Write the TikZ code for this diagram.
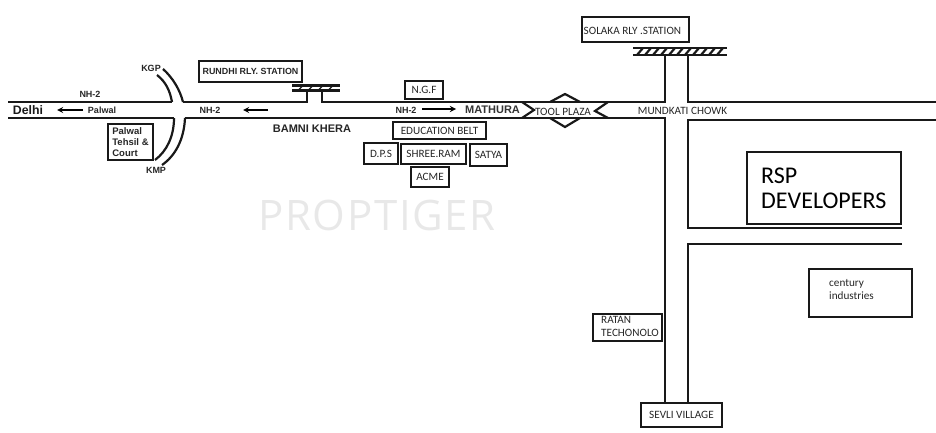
\documentclass[tikz,border=0pt]{standalone}
\usepackage{fontspec}
\setmainfont{Carlito}
\newfontfamily\armfont{Liberation Sans}
\newfontfamily\markfont[LetterSpace=4]{Open Sans}
\usepackage{tikz}
\usetikzlibrary{math}
\colorlet{roadfg}{black!90}
\tikzset{%
  road/.style={line width=2.2pt, color=roadfg},
  placebox/.style={draw=roadfg, line width=2.2pt, inner sep=0pt, align=left, text=black!85},
  armlabel/.style={inner sep=0pt, font=\armfont\bfseries\fontsize{9}{10}\selectfont, text=black!85},
  runarrow/.style={line width=1.7pt, color=black, -stealth}
}
\newcommand*{\SmallText}{\fontsize{11.2}{13}\selectfont}

\begin{document}
\begin{tikzpicture}[x=1pt,y=-1pt]
    \useasboundingbox (0,0) rectangle (936,433);
    \tikzmath{
      \topy=102; % main road
      \boty=118;
      \lefty=665; % cross road
      \righty=688;
    }
    % Main road:
    \draw[road] (8,\topy) -- (172,\topy);
    \draw[road] (183,\topy) -- (307,\topy) -- (307,89);
    \draw[road] (322,89) -- (322,\topy) -- (\lefty,\topy) -- (\lefty,55);
    \draw[road] (\righty,55) -- (\righty,\topy) -- (936,\topy);
    \draw[road] (8,\boty) -- (174,\boty);
    \draw[road] (185,\boty) -- (\lefty,\boty) -- (\lefty,403);
    \draw[road] (936,120) -- (\righty,120) -- (\righty,228) -- (902,228);
    \draw[road] (902,244) -- (\righty,244) -- (\righty,403);
    % Flyover:
    \draw[road] (157,75) .. controls (166,82) and (170,91) .. (172,102);
    \draw[road] (163,69) .. controls (173,78) and (180,90) .. (183,102);
    \draw[road] (174,118) .. controls (174,136) and (167,151) .. (155,160);
    \draw[road] (185,118) .. controls (184,140) and (175,156) .. (162,165);
    % Rails:
    \draw[road] (292,85.5) -- (340,85.5) (292,90.5) -- (340,90.5);
    \foreach \x in {298,308,...,332} {
      \draw[line width=1.4pt, color=roadfg] (\x,90.5) -- (\x+5,85.5);
    }
    \draw[road] (633,48) -- (727,48) (633,55) -- (727,55);
    \foreach \x in {637,645,...,717} {
      \draw[line width=2.2pt, color=roadfg] (\x,55) -- (\x+6,48);
    }
    % Tool plaza:
    \draw[road] (522,102) -- (534,110) -- (522,118);
    \draw[road] (608,102) -- (595,111) -- (608,118);
    \draw[road] (550,102) -- (565,94) -- (580,102);
    \draw[road] (550,118) -- (565,127) -- (580,118);
    % Direction arrows:
    \coordinate (delhitail) at (83,110);
    \coordinate (delhihead) at (57,110);
    \coordinate (midtail) at (268,110);
    \coordinate (midhead) at (243,110);
    \coordinate (mathuratail) at (422,109);
    \coordinate (mathurahead) at (456,109);
    \draw[runarrow] (delhitail) -- (delhihead);
    \draw[runarrow] (midtail) -- (midhead);
    \draw[runarrow] (mathuratail) -- (mathurahead);
    % Watermark:
    \node (proptiger) at (377,215) [inner sep=0pt, text=black!9, font=\markfont\fontsize{42}{46}\selectfont] {PROPTIGER};
    % Boxes:
    \node (rundhi) at (250.5,71.5) [placebox, minimum width=103pt, minimum height=21pt, font=\armfont\bfseries\fontsize{8.9}{10}\selectfont] {RUNDHI RLY. STATION};
    \node (palwalcourt) at (130.5,142) [placebox, minimum width=45pt, minimum height=36pt, font=\armfont\bfseries\fontsize{9.5}{11}\selectfont] {Palwal\\Tehsil \&\\Court};
    \node (ngf) at (424,90) [placebox, minimum width=38pt, minimum height=18pt, font=\SmallText] {N.G.F};
    \node (edubelt) at (439.5,130.5) [placebox, minimum width=93pt, minimum height=17pt, font=\SmallText] {EDUCATION BELT};
    \node (dps) at (381,153.5) [placebox, minimum width=34pt, minimum height=21pt, font=\SmallText] {D.P.S};
    \node (shreeram) at (433.5,154) [placebox, minimum width=65pt, minimum height=20pt, font=\SmallText] {SHREE.RAM};
    \node (satya) at (488.5,155) [placebox, minimum width=37pt, minimum height=22pt, font=\SmallText] {SATYA};
    \node (acme) at (430,177) [placebox, minimum width=38pt, minimum height=20pt, font=\SmallText] {ACME};
    \node (solaka) at (635.5,29.5) [placebox, minimum width=107pt, minimum height=25pt] {};
    \node (solakatext) at (583.5,31) [anchor=west, inner sep=0pt, text=black!85, font=\SmallText] {SOLAKA RLY .STATION};
    \node (rsp) at (824,188) [placebox, minimum width=154pt, minimum height=72pt] {};
    \node (rsptext) at (761,188) [anchor=west, inner sep=0pt, align=left, text=black, font=\fontsize{24}{25}\selectfont] {RSP\\DEVELOPERS};
    \node (century) at (860.5,293) [placebox, minimum width=103pt, minimum height=48pt] {};
    \node (centurytext) at (829,289.5) [anchor=west, inner sep=0pt, align=left, text=black!85, font=\SmallText] {century\\industries};
    \node (ratan) at (627.5,327.5) [placebox, minimum width=69pt, minimum height=27pt] {};
    \node (ratantext) at (601,326.5) [anchor=west, inner sep=0pt, align=left, text=black!85, font=\SmallText] {RATAN\\TECHONOLO};
    \node (sevli) at (681.5,415) [placebox, minimum width=81pt, minimum height=24pt, font=\SmallText] {SEVLI VILLAGE};
    % Road labels:
    \node (delhi) at (28,110) [inner sep=0pt, text=black!90, font=\armfont\bfseries\fontsize{12.3}{14}\selectfont] {Delhi};
    \node (palwal) at (102,110) [armlabel] {Palwal};
    \node (nhone) at (90,94) [armlabel] {NH-2};
    \node (nhtwo) at (210,110) [armlabel] {NH-2};
    \node (nhthree) at (406,110) [armlabel] {NH-2};
    \node (kgp) at (151,68) [armlabel] {KGP};
    \node (kmp) at (156,170) [armlabel] {KMP};
    \node (bamni) at (312,129) [inner sep=0pt, text=black!85, font=\armfont\bfseries\fontsize{11}{13}\selectfont] {BAMNI KHERA};
    \node (mathura) at (492.5,110) [inner sep=0pt, text=black!80, font=\armfont\bfseries\fontsize{11}{13}\selectfont] {MATHURA};
    \node (toolplaza) at (563,112) [inner sep=0pt, text=black!85, font=\SmallText] {TOOL PLAZA};
    \node (mundkati) at (682.5,111) [inner sep=0pt, text=black!85, font=\SmallText] {MUNDKATI CHOWK};
\end{tikzpicture}
\end{document}
